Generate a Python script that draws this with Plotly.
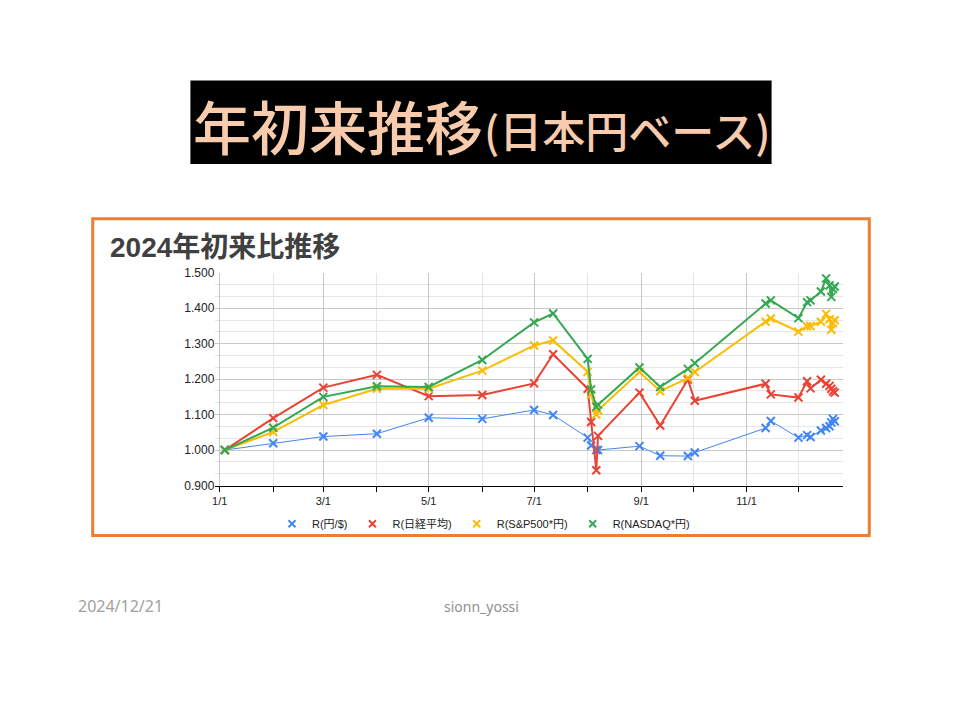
import plotly.graph_objects as go

# Dates of the data points
dates = ["2024-01-04", "2024-02-01", "2024-03-01", "2024-04-01", "2024-05-01",
         "2024-06-01", "2024-07-01", "2024-07-12", "2024-08-01", "2024-08-03",
         "2024-08-06", "2024-08-07", "2024-08-31", "2024-09-12", "2024-09-28",
         "2024-10-02", "2024-11-12", "2024-11-15", "2024-12-01", "2024-12-06",
         "2024-12-08", "2024-12-14", "2024-12-17", "2024-12-19", "2024-12-20",
         "2024-12-21", "2024-12-22"]

# Ratios vs. start of year
r_usdjpy = [1.000, 1.019, 1.038, 1.046, 1.091, 1.088, 1.113, 1.099, 1.035, 1.013,
            1.000, 1.000, 1.011, 0.984, 0.983, 0.993, 1.062, 1.082, 1.035, 1.042,
            1.037, 1.055, 1.062, 1.067, 1.078, 1.088, 1.081]
r_nikkei = [1.000, 1.090, 1.176, 1.212, 1.152, 1.155, 1.188, 1.270, 1.173, 1.079,
            0.943, 1.040, 1.162, 1.069, 1.199, 1.139, 1.187, 1.157, 1.148, 1.194,
            1.174, 1.198, 1.187, 1.181, 1.173, 1.166, 1.162]
r_sp500 = [1.000, 1.051, 1.127, 1.173, 1.173, 1.224, 1.295, 1.309, 1.221, 1.157,
           1.100, 1.112, 1.220, 1.166, 1.203, 1.220, 1.362, 1.371, 1.334, 1.349,
           1.350, 1.362, 1.384, 1.369, 1.339, 1.358, 1.366]
r_nasdaq = [1.000, 1.063, 1.150, 1.180, 1.178, 1.254, 1.360, 1.385, 1.257, 1.171,
            1.122, 1.128, 1.233, 1.178, 1.229, 1.245, 1.413, 1.422, 1.372, 1.417,
            1.422, 1.447, 1.484, 1.464, 1.432, 1.455, 1.461]

names = ["R(円/$)", "R(日経平均)", "R(S&P500*円)", "R(NASDAQ*円)"]
series = [r_usdjpy, r_nikkei, r_sp500, r_nasdaq]
colors = ["#4285f4", "#ea4335", "#fbbc04", "#34a853"]
widths = [1, 2, 2, 2]

font_chart = "Liberation Sans, Arial, Noto Sans CJK JP"

fig = go.Figure()
for name, ys, c, w in zip(names, series, colors, widths):
    mk = dict(symbol="x-thin", size=8, color=c, line=dict(color=c, width=2))
    fig.add_trace(go.Scatter(
        x=dates, y=ys, mode="lines+markers", name=name, showlegend=False,
        line=dict(color=c, width=w), marker=mk
    ))
    # legend entry with the marker only
    fig.add_trace(go.Scatter(x=[None], y=[None], mode="markers", name=name,
                             marker=dict(mk, size=7)))

fig.update_layout(
    width=960, height=720,
    margin=dict(l=0, r=0, t=0, b=0),
    paper_bgcolor="white", plot_bgcolor="white",
    font=dict(family=font_chart, size=11, color="#222222"),
    xaxis=dict(
        domain=[213 / 960, 843 / 960],
        type="date", range=["2023-12-29 12:00", "2024-12-27"],
        tick0="2024-01-01", dtick="M2", tickformat="%-m/%-d",
        ticks="outside", ticklen=5, tickcolor="black",
        showline=True, linecolor="black", linewidth=1,
        showgrid=True, gridcolor="#c8c8c8",
        minor=dict(dtick="M1", ticks="outside", ticklen=5, tickcolor="black",
                   showgrid=True, gridcolor="#e6e6e6"),
        tickfont=dict(size=11, color="#222222"),
    ),
    yaxis=dict(
        domain=[1 - 488 / 720, 1 - 271 / 720],
        range=[0.9, 1.5], dtick=0.1, tickformat=".3f",
        showgrid=True, gridcolor="#c8c8c8", zeroline=False,
        minor=dict(dtick=0.1 / 3, showgrid=True, gridcolor="#e6e6e6"),
        tickfont=dict(size=12, color="#222222"),
    ),
    legend=dict(orientation="h", x=482 / 960, xanchor="center",
                y=1 - 527 / 720, yanchor="middle", bgcolor="rgba(0,0,0,0)",
                font=dict(size=11, color="#222222")),
    shapes=[
        dict(type="rect", xref="paper", yref="paper",
             x0=188 / 960, x1=771 / 960, y0=1 - 160 / 720, y1=1 - 75 / 720,
             fillcolor="black", line=dict(width=0), layer="below"),
        dict(type="rect", xref="paper", yref="paper",
             x0=90 / 960, x1=869 / 960, y0=1 - 539 / 720, y1=1 - 216 / 720,
             line=dict(color="#ed7d31", width=3), layer="below"),
    ],
    annotations=[
        dict(text="年初来推移", xref="paper", yref="paper",
             x=189 / 960, y=1 - 120 / 720, xanchor="left", yanchor="middle",
             showarrow=False,
             font=dict(family="Noto Sans CJK JP", size=58, weight=500,
                       color="#f8cbad")),
        dict(text="(日本円ベース)", xref="paper", yref="paper",
             x=480 / 960, y=1 - 124 / 720, xanchor="left", yanchor="middle",
             showarrow=False,
             font=dict(family="Noto Sans CJK JP", size=43, weight=500,
                       color="#f8cbad")),
        dict(text="<b>2024年初来比推移</b>", xref="paper", yref="paper",
             x=105 / 960, y=1 - 245 / 720, xanchor="left", yanchor="middle",
             showarrow=False,
             font=dict(family=font_chart, size=28, color="#404040")),
        dict(text="2024/12/21", xref="paper", yref="paper",
             x=118 / 960, y=1 - 611 / 720, xanchor="center", yanchor="middle",
             showarrow=False,
             font=dict(family="Noto Sans", size=16, color="#a0a0a0")),
        dict(text="sionn_yossi", xref="paper", yref="paper",
             x=480 / 960, y=1 - 611 / 720, xanchor="center", yanchor="middle",
             showarrow=False,
             font=dict(family="Noto Sans", size=14, color="#909090")),
    ],
)

fig.write_html("out.html", config={"displayModeBar": False},
               post_script="document.body.style.margin='0px';")
